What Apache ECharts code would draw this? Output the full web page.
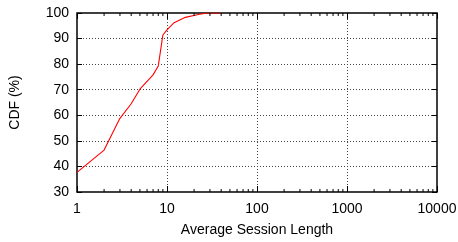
<!DOCTYPE html>
<html>
<head>
<meta charset="utf-8">
<style>
html, body { margin: 0; padding: 0; background: #fff; }
#myChart { width: 458px; height: 242px; }
</style>
<script src="https://cdn.jsdelivr.net/npm/echarts@6/dist/echarts.min.js"></script>
</head>
<body>
<div id="myChart"></div>
<script>
// values
const sessionLen = [1, 2, 3, 4, 5, 7, 8, 9, 10, 12, 16, 23, 28, 40]
const cdf = [37.7, 46.4, 58.8, 64.5, 70.2, 75.8, 79.3, 91.4, 93.4, 96.2, 98.3, 99.5, 100, 100]
const minorTicks = []
for (const d of [1, 10, 100, 1000]) {
  for (let k = 2; k <= 9; k++) minorTicks.push(k * d)
}

const font = 'Liberation Sans, Arial, Helvetica, sans-serif'
let myChart = echarts.init(document.getElementById('myChart'), null, { renderer: 'canvas' })

const gridLine = { show: true, lineStyle: { color: '#444', type: [1, 2], width: 1 } }
const xBase = {
  type: 'log',
  logBase: 10,
  min: 1,
  max: 10000,
  axisLine: { show: false },
  axisTick: { show: true, inside: true, length: 6, lineStyle: { color: '#000', width: 1 } },
  minorTick: { show: false }
}
const yBase = {
  type: 'value',
  min: 30,
  max: 100,
  interval: 10,
  axisLine: { show: false },
  axisTick: { show: true, inside: true, length: 5, lineStyle: { color: '#000', width: 1 } }
}

myChart.setOption({
  animation: false,
  grid: {
    left: 77, right: 21, top: 13, bottom: 50,
    outerBoundsMode: 'none',
    show: true, borderColor: '#000', borderWidth: 1.5, backgroundColor: 'transparent'
  },
  xAxis: [
    Object.assign({}, xBase, {
      position: 'bottom',
      name: 'Average Session Length',
      nameLocation: 'middle',
      nameGap: 31,
      nameTextStyle: { fontFamily: font, fontSize: 14, color: '#000' },
      axisLabel: {
        fontFamily: font, fontSize: 14, color: '#000', margin: 10,
        formatter: v => String(v)
      },
      splitLine: gridLine
    }),
    Object.assign({}, xBase, {
      position: 'top',
      axisLabel: { show: false },
      splitLine: { show: false }
    })
  ],
  yAxis: [
    Object.assign({}, yBase, {
      position: 'left',
      name: 'CDF (%)',
      nameLocation: 'middle',
      nameGap: 55,
      nameTextStyle: { fontFamily: font, fontSize: 14, color: '#000' },
      axisLabel: { fontFamily: font, fontSize: 14, color: '#000', margin: 8 },
      splitLine: gridLine
    }),
    Object.assign({}, yBase, {
      position: 'right',
      axisLabel: { show: false },
      splitLine: { show: false }
    })
  ],
  series: [
    {
      type: 'line',
      data: sessionLen.map((x, i) => [x, cdf[i]]),
      showSymbol: false,
      symbol: 'none',
      lineStyle: { color: '#ff0000', width: 1.1 },
      itemStyle: { color: '#ff0000' },
      z: 3
    },
    {
      // minor log ticks on bottom and top edges
      type: 'custom',
      data: minorTicks.map(v => [v]),
      clip: false,
      silent: true,
      z: 4,
      renderItem: function (params, api) {
        const b = api.coord([api.value(0), 30])
        const t = api.coord([api.value(0), 100])
        const style = { stroke: '#000', lineWidth: 1 }
        return {
          type: 'group',
          children: [
            { type: 'line', shape: { x1: b[0], y1: b[1], x2: b[0], y2: b[1] - 3 }, style: style },
            { type: 'line', shape: { x1: t[0], y1: t[1], x2: t[0], y2: t[1] + 3 }, style: style }
          ]
        }
      }
    }
  ]
})
</script>
</body>
</html>
